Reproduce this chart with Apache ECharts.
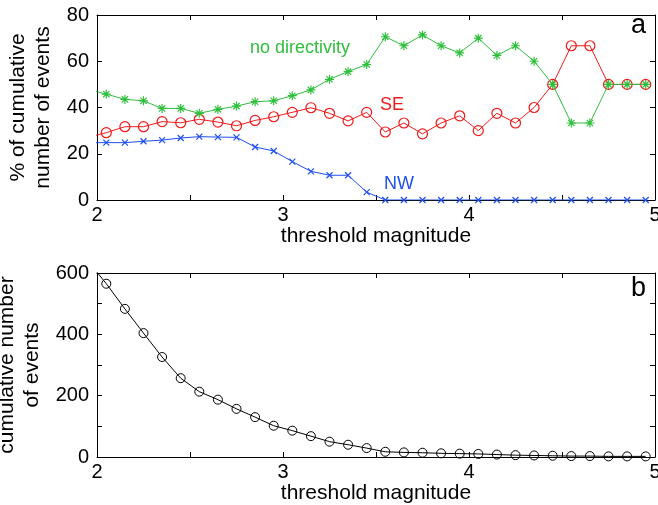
<!DOCTYPE html>
<html><head><meta charset="utf-8">
<script src="https://cdn.jsdelivr.net/npm/echarts@6/dist/echarts.min.js"></script>
<style>html,body{margin:0;padding:0;background:#fff}#c{width:658px;height:505px}</style>
</head><body><div id="c"></div>
<script>
const mags = [1.95,2.05,2.15,2.25,2.35,2.45,2.55,2.65,2.75,2.85,2.95,3.05,3.15,3.25,3.35,3.45,3.55,3.65,3.75,3.85,3.95,4.05,4.15,4.25,4.35,4.45,4.55,4.65,4.75,4.85,4.95];
const noDir = [47.8,45.8,43.5,42.9,39.6,39.6,37.5,39.2,40.6,42.5,42.9,45.1,47.6,52.2,55.5,58.6,70.6,66.7,71.4,66.7,63.6,70,62.5,66.7,60,50,33.3,33.3,50,50,50];
const se    = [27.1,29.1,31.7,31.7,33.9,33.4,34.9,33.7,32.1,34.4,36.0,37.9,39.9,37.5,34.2,37.9,29.4,33.3,28.6,33.3,36.4,30,37.5,33.3,40,50,66.7,66.7,50,50,50];
const nw    = [24.8,24.8,24.8,25.4,25.9,26.8,27.4,27.2,27.1,22.9,21.2,16.6,12.4,10.7,10.7,3.4,0,0,0,0,0,0,0,0,0,0,0,0,0,0,0];
const cumN  = [640,565,483,404,326,257,213,187,157,130,102,86,68,50,40,29,17,15,14,12,11,10,8,6,5,4,3,3,2,2,2];
const xTicks = [2,3,4,5];

const FONT = 'Liberation Sans, Arial, Helvetica, sans-serif';
const GREEN = '#2fbf3c', RED = '#f01a1a', BLUE = '#1f4ff0';
const pair = arr => mags.map((m,i)=>[m,arr[i]]);
const ASTER = 'path://M5,0L5,10M0,5L10,5M1.5,1.5L8.5,8.5M8.5,1.5L1.5,8.5';
const XMARK = 'path://M0,0L10,10M10,0L0,10';

function xAx(gi, pos, showLabels){
  return {type:'value', gridIndex:gi, position:pos, min:2, max:5, interval:0.5,
    axisLine:{show:true,onZero:false,lineStyle:{color:'#000',width:1}},
    axisTick:{show:true,inside:true,length:5,lineStyle:{color:'#000'}},
    splitLine:{show:false},
    axisLabel:{show:showLabels, color:'#000', fontFamily:FONT, fontSize:20, margin:5,
      formatter:v=> xTicks.indexOf(v)>=0 ? String(v) : ''},
    name: showLabels ? 'threshold magnitude' : '', nameLocation:'middle', nameGap:25,
    nameTextStyle:{color:'#000', fontFamily:FONT, fontSize:21}};
}
function yAx(gi, pos, max, interval, labelEvery, name, showLabels){
  return {type:'value', gridIndex:gi, position:pos, min:0, max:max, interval:interval,
    axisLine:{show:true,onZero:false,lineStyle:{color:'#000',width:1}},
    axisTick:{show:true,inside:true,length:5,lineStyle:{color:'#000'}},
    splitLine:{show:false},
    axisLabel:{show:showLabels, color:'#000', fontFamily:FONT, fontSize:20, margin:8,
      formatter:v=> (v % labelEvery === 0) ? String(v) : ''},
    name: showLabels ? name : '', nameLocation:'middle', nameGap:36,
    nameTextStyle:{color:'#000', fontFamily:FONT, fontSize:21, lineHeight:25}};
}

const chart = echarts.init(document.getElementById('c'), null, {renderer:'canvas'});
chart.setOption({
  backgroundColor:'#fff',
  animation:false,
  grid:[
    {left:97, right:3, top:15, height:185, containLabel:false, outerBoundsMode:'none'},
    {left:97, right:3, top:273, height:184, containLabel:false, outerBoundsMode:'none'}
  ],
  xAxis:[xAx(0,'bottom',true), xAx(0,'top',false), xAx(1,'bottom',true), xAx(1,'top',false)],
  yAxis:[
    yAx(0,'left',80,20,20,'% of cumulative\nnumber of events',true),
    yAx(0,'right',80,20,20,'',false),
    yAx(1,'left',600,100,200,'cumulative number\nof events',true),
    yAx(1,'right',600,100,200,'',false)
  ],
  series:[
    {type:'line', xAxisIndex:0, yAxisIndex:0, data:pair(noDir), symbol:ASTER, symbolSize:9, clip:true,
     lineStyle:{color:GREEN,width:1}, itemStyle:{color:'none',borderColor:GREEN,borderWidth:1.2}, z:3},
    {type:'line', xAxisIndex:0, yAxisIndex:0, data:pair(se), symbol:'circle', symbolSize:10, clip:true,
     lineStyle:{color:RED,width:1}, itemStyle:{color:'rgba(0,0,0,0)',borderColor:RED,borderWidth:1.2}, z:2},
    {type:'line', xAxisIndex:0, yAxisIndex:0, data:pair(nw), symbol:XMARK, symbolSize:6, clip:true,
     lineStyle:{color:BLUE,width:1}, itemStyle:{color:'none',borderColor:BLUE,borderWidth:1.2}, z:2},
    {type:'line', xAxisIndex:2, yAxisIndex:2, data:pair(cumN), symbol:'circle', symbolSize:9, clip:true,
     lineStyle:{color:'#000',width:1}, itemStyle:{color:'rgba(0,0,0,0)',borderColor:'#000',borderWidth:1}, z:2}
  ],
  graphic:[
    {type:'text', left:250, top:39, style:{text:'no directivity', fill:GREEN, font:'18px '+FONT}},
    {type:'text', left:380, top:96, style:{text:'SE', fill:RED, font:'18px '+FONT}},
    {type:'text', left:384, top:175, style:{text:'NW', fill:BLUE, font:'18px '+FONT}},
    {type:'text', left:631, top:12, style:{text:'a', fill:'#000', font:'27px '+FONT}},
    {type:'text', left:631, top:275, style:{text:'b', fill:'#000', font:'27px '+FONT}}
  ]
});
</script></body></html>
